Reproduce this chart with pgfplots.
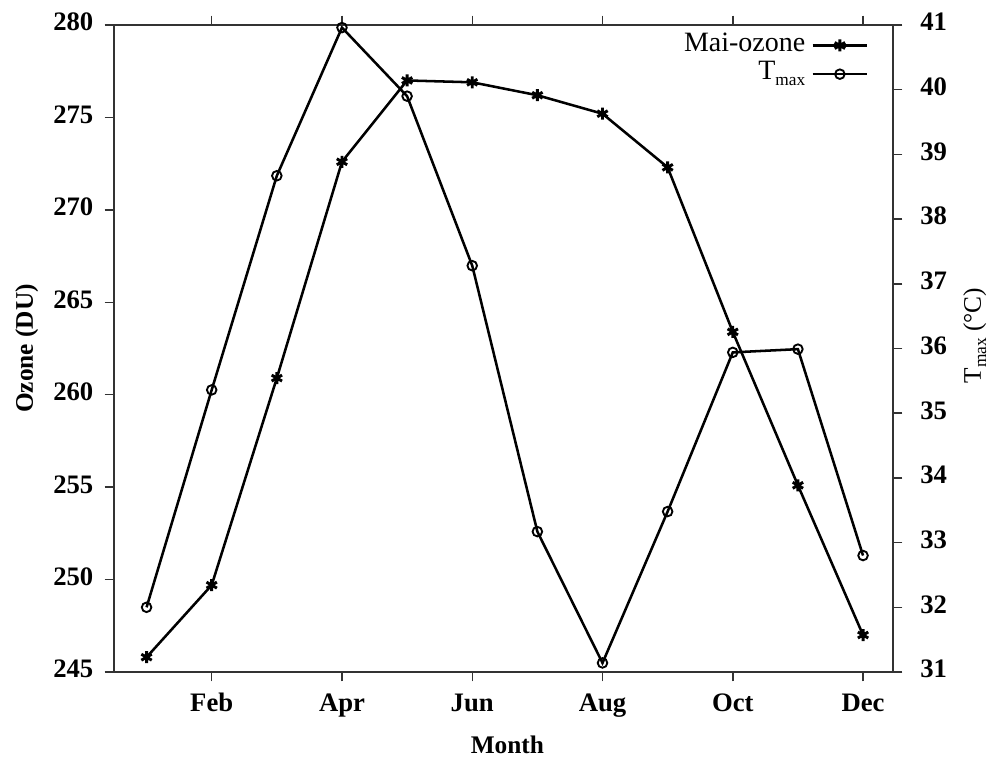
\documentclass[border=0pt]{standalone}
\usepackage{fontspec}
\setmainfont{Liberation Serif}
\usepackage{pgfplots}
\usepackage{pgfplotstable}
\pgfplotsset{compat=1.18}

% Monthly mean total ozone (DU) and maximum temperature (deg C)
\pgfplotstableread{
month ozone tmax
1   245.8  32.00
2   249.7  35.36
3   260.9  38.67
4   272.6  40.96
5   277.0  39.90
6   276.9  37.28
7   276.2  33.17
8   275.2  31.14
9   272.3  33.48
10  263.4  35.94
11  255.1  35.99
12  247.0  32.80
}\monthly

\newcommand{\Tmax}{T\raisebox{-0.45ex}{\fontsize{13}{13}\selectfont max}}

\begin{document}
\begin{tikzpicture}
\pgfplotsset{
  common/.style={
    scale only axis, width=584.25pt, height=485.25pt,
    xmin=0.5, xmax=12.46,
    tick align=outside, major tick length=7pt,
    axis line style={line width=1.3pt, black!80},
    tick style={line width=1.1pt, black!80},
    ticklabel style={font=\fontsize{20}{22}\selectfont\bfseries},
    typeset ticklabels with strut,
    /pgf/number format/assume math mode=true,
  },
  ozonestyle/.style={black, line width=1.9pt, mark=asterisk, mark size=4.5pt,
    mark options={line width=2.2pt}},
  tmaxstyle/.style={black, line width=1.9pt, mark=o, mark size=3.6pt,
    mark options={line width=1.4pt, fill=none}},
}
% left axis: ozone
\begin{axis}[common, name=ax1,
  ymin=245, ymax=280, ytick={245,250,...,280}, ytick pos=left,
  yticklabel style={xshift=-5pt},
  xticklabel style={yshift=-4pt},
  xtick={2,4,...,12}, xticklabels={Feb,Apr,Jun,Aug,Oct,Dec},
  xlabel={Month}, ylabel={Ozone (DU)},
  every axis x label/.style={at={(axis description cs:0.505,-0.113)}, anchor=center,
    font=\fontsize{19}{22}\selectfont\bfseries},
  every axis y label/.style={at={(axis description cs:-0.112,0.5)}, rotate=90, anchor=center,
    font=\fontsize{19}{22}\selectfont\bfseries},
]
\addplot[ozonestyle] table[x=month, y=ozone] {\monthly};
\end{axis}
% right axis: maximum temperature
\begin{axis}[common, hide x axis,
  ymin=31, ymax=41, ytick={31,32,...,41}, ytick pos=right,
  yticklabel style={xshift=10pt},
  ylabel={\Tmax\ (°C)},
  every axis y label/.style={at={(axis description cs:1.105,0.52)}, rotate=90, anchor=center,
    font=\fontsize{19}{22}\selectfont},
  legend style={at={(axis description cs:0.974,0.995)}, anchor=north east,
    draw=none, fill=none, font=\fontsize{21}{21}\selectfont,
    legend cell align=right, row sep=0pt, column sep=4.5pt,
    nodes={inner sep=0pt, text height=15pt, text depth=6.5pt}},
  legend plot pos=right,
  legend image code/.code={\draw[mark repeat=2, mark phase=2, #1]
    plot coordinates {(0pt,0pt) (20.5pt,0pt) (41pt,0pt)};},
]
\addlegendimage{ozonestyle}
\addlegendentry{Mai-ozone}
\addplot[tmaxstyle] table[x=month, y=tmax] {\monthly};
\addlegendentry{\Tmax}
\end{axis}
\pgfresetboundingbox
\path ([xshift=-85.5pt, yshift=-66pt]ax1.south west) rectangle
      ([xshift=81.75pt, yshift=18.75pt]ax1.north east);
\end{tikzpicture}
\end{document}
